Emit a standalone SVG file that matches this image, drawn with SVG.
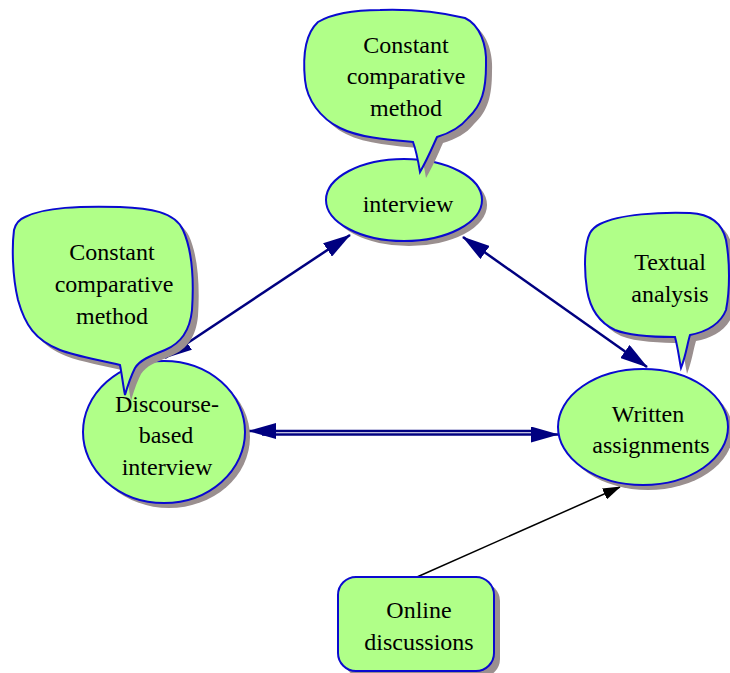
<svg xmlns="http://www.w3.org/2000/svg" width="730" height="673" viewBox="0 0 730 673" font-family="Liberation Serif, serif">
<style>
.node{fill:#b0ff88;stroke:#0a0ad0;stroke-width:2}
.shadow{fill:#9a8f8f;stroke:none}
text{font-family:"Liberation Serif",serif;font-size:24px;fill:#000;text-anchor:middle}
.nav{stroke:#000080;stroke-width:2.5;fill:none}
.blk{stroke:#000;stroke-width:1.5;fill:none}
</style>
<defs>
<marker id="ah" viewBox="0 0 28 16" refX="27" refY="8" markerWidth="28" markerHeight="16" markerUnits="userSpaceOnUse" orient="auto-start-reverse">
<path d="M0,0 L28,8 L0,16 z" fill="#000080"/>
</marker>
<marker id="ahb" viewBox="0 0 18 12" refX="17" refY="6" markerWidth="18" markerHeight="12" markerUnits="userSpaceOnUse" orient="auto">
<path d="M0,0 L18,6 L0,12 z" fill="#000"/>
</marker>
<path id="cTop" d="M318,22 C335,12 360,10 380,10 C410,9 440,12 465,18 C480,25 487,45 486,65 C486,90 482,105 468,118 C460,128 450,133 437,137 C432,148 428,158 420,172 C418,160 416,150 413,142 C390,140 360,138 340,128 C320,118 307,100 305,80 C303,60 304,35 318,22 Z"/>
<path id="cLeft" d="M25,217 C45,207 80,206 120,207 C150,208 175,212 183,230 C192,250 194,280 192,310 C190,330 182,343 165,350 C150,356 140,360 135,368 C130,378 127,388 125,395 C123,385 122,375 120,365 C100,360 75,356 60,350 C35,340 25,325 18,300 C12,275 12,245 14,230 C16,222 20,219 25,217 Z"/>
<path id="cRight" d="M600,224 C620,214 660,212 690,213 C710,214 722,222 726,240 C730,262 730,290 726,310 C720,325 705,332 690,335 C687,345 686,355 681,368 C679,358 678,348 675,337 C655,337 630,336 615,330 C598,322 590,308 587,290 C584,270 584,245 590,233 C593,228 596,226 600,224 Z"/>
</defs>

<g id="connectors">
<line class="nav" x1="350" y1="235" x2="165" y2="358" marker-start="url(#ah)" marker-end="url(#ah)"/>
<line class="nav" x1="463" y1="237" x2="647" y2="367" marker-start="url(#ah)" marker-end="url(#ah)"/>
<line class="nav" x1="249" y1="431" x2="540" y2="431" marker-start="url(#ah)"/>
<line class="nav" x1="262" y1="434.5" x2="558" y2="434.5" marker-end="url(#ah)"/>
<line class="blk" x1="417" y1="577" x2="620" y2="487" marker-end="url(#ahb)"/>
</g>

<g id="node-interview">
<ellipse class="shadow" cx="409" cy="205" rx="78" ry="41"/>
<ellipse class="node" cx="404" cy="200" rx="78" ry="41"/>
<text x="408" y="212">interview</text>
</g>

<g id="callout-interview">
<use href="#cTop" class="shadow" transform="translate(6,6)"/>
<use href="#cTop" class="node"/>
<text x="406" y="53">Constant</text>
<text x="406" y="84">comparative</text>
<text x="406" y="116">method</text>
</g>

<g id="node-discourse">
<ellipse class="shadow" cx="169" cy="437" rx="81" ry="71"/>
<ellipse class="node" cx="164" cy="432" rx="81" ry="71"/>
<text x="167" y="412">Discourse-</text>
<text x="166" y="443">based</text>
<text x="167" y="475">interview</text>
</g>

<g id="callout-discourse">
<use href="#cLeft" class="shadow" transform="translate(6,6)"/>
<use href="#cLeft" class="node"/>
<text x="112" y="260">Constant</text>
<text x="114" y="292">comparative</text>
<text x="112" y="324">method</text>
</g>

<g id="node-written">
<ellipse class="shadow" cx="648" cy="432" rx="85" ry="58"/>
<ellipse class="node" cx="643" cy="427" rx="85" ry="58"/>
<text x="648" y="422">Written</text>
<text x="651" y="453">assignments</text>
</g>

<g id="callout-written">
<use href="#cRight" class="shadow" transform="translate(6,6)"/>
<use href="#cRight" class="node"/>
<text x="670" y="270">Textual</text>
<text x="670" y="302">analysis</text>
</g>

<g id="node-online">
<rect class="shadow" x="344" y="583" width="156" height="94" rx="18"/>
<rect class="node" x="338" y="577" width="156" height="94" rx="18"/>
<text x="419" y="618">Online</text>
<text x="419" y="650">discussions</text>
</g>
</svg>
